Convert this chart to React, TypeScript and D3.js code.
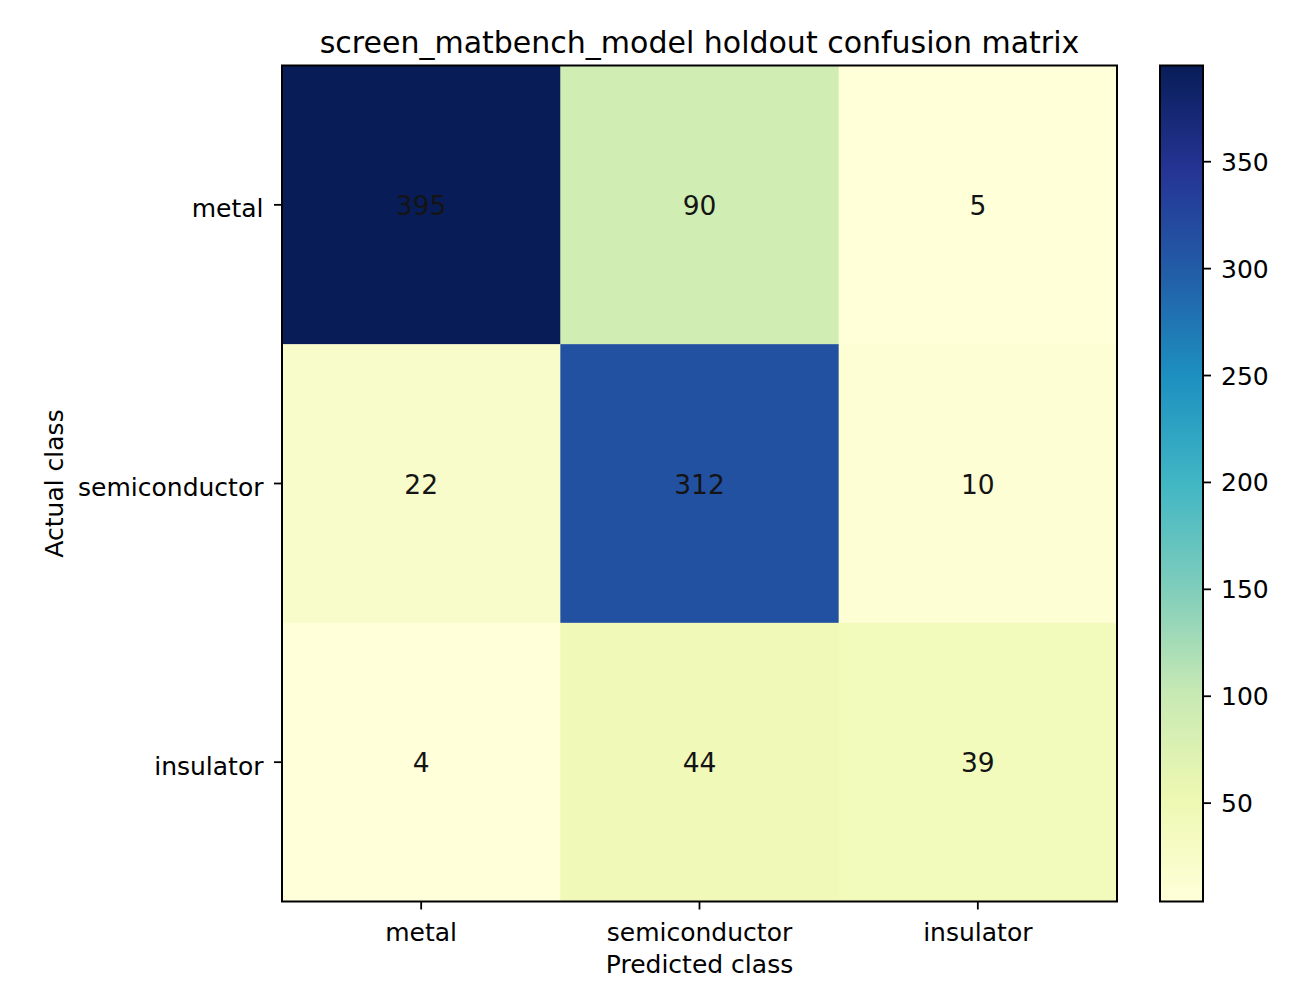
import { useEffect, useRef } from "react";
import * as d3 from "d3";

// Confusion matrix values
const CLASSES = ["metal", "semiconductor", "insulator"];
const ROW_METAL = [395, 90, 5];
const ROW_SEMICONDUCTOR = [22, 312, 10];
const ROW_INSULATOR = [4, 44, 39];
const COLORBAR_TICKS = [50, 100, 150, 200, 250, 300, 350];

// matplotlib YlGnBu control colours (linear segmented)
const YLGNBU = [
  "#ffffd9",
  "#edf8b1",
  "#c7e9b4",
  "#7fcdbb",
  "#41b6c4",
  "#1d91c0",
  "#225ea8",
  "#253494",
  "#081d58",
];

const WIDTH = 1296;
const HEIGHT = 1007;
const PLOT = { left: 282, right: 1117, top: 65.5, bottom: 901.5 };
const CBAR = { left: 1160, right: 1203 };
const FONT = "DejaVu Sans, Liberation Sans, sans-serif";
const TICK_FS = "25px";

export default function App() {
  const svgRef = useRef<SVGSVGElement>(null);

  useEffect(() => {
    if (!svgRef.current) return;
    const svg = d3.select(svgRef.current);
    svg.selectAll("*").remove();

    const rows = [ROW_METAL, ROW_SEMICONDUCTOR, ROW_INSULATOR];
    const cells = rows.flatMap((r, i) =>
      r.map((v, j) => ({ row: CLASSES[i], col: CLASSES[j], value: v }))
    );
    const all = cells.map((c) => c.value);
    const vmin = d3.min(all) ?? 0;
    const vmax = d3.max(all) ?? 1;

    const x = d3.scaleBand().domain(CLASSES).range([PLOT.left, PLOT.right]);
    const y = d3.scaleBand().domain(CLASSES).range([PLOT.top, PLOT.bottom]);

    const color = d3
      .scaleLinear<string>()
      .domain(YLGNBU.map((_, i) => vmin + ((vmax - vmin) * i) / (YLGNBU.length - 1)))
      .range(YLGNBU)
      .interpolate(d3.interpolateRgb)
      .clamp(true);

    svg.attr("width", WIDTH).attr("height", HEIGHT).style("font-family", FONT);
    svg.append("rect").attr("width", WIDTH).attr("height", HEIGHT).attr("fill", "#fff");

    // Cells
    svg
      .append("g")
      .selectAll("rect")
      .data(cells)
      .join("rect")
      .attr("x", (d) => x(d.col)!)
      .attr("y", (d) => y(d.row)!)
      .attr("width", x.bandwidth() + 0.5)
      .attr("height", y.bandwidth() + 0.5)
      .attr("fill", (d) => color(d.value));

    // Annotations
    svg
      .append("g")
      .selectAll("text")
      .data(cells)
      .join("text")
      .attr("x", (d) => x(d.col)! + x.bandwidth() / 2)
      .attr("y", (d) => y(d.row)! + y.bandwidth() / 2 + 10)
      .attr("text-anchor", "middle")
      .attr("font-size", "26.5px")
      .attr("fill", "#141414")
      .text((d) => d.value);

    // Frame
    svg
      .append("rect")
      .attr("x", PLOT.left)
      .attr("y", PLOT.top)
      .attr("width", PLOT.right - PLOT.left)
      .attr("height", PLOT.bottom - PLOT.top)
      .attr("fill", "none")
      .attr("stroke", "#000")
      .attr("stroke-width", 2);

    // X ticks
    const xt = svg
      .append("g")
      .selectAll("g")
      .data(CLASSES)
      .join("g")
      .attr("transform", (d) => `translate(${x(d)! + x.bandwidth() / 2},${PLOT.bottom})`);
    xt.append("line").attr("y2", 8).attr("stroke", "#000").attr("stroke-width", 1.8);
    xt.append("text")
      .attr("y", 39.5)
      .attr("text-anchor", "middle")
      .attr("font-size", TICK_FS)
      .attr("fill", "#000")
      .text((d) => d);

    // Y ticks
    const yt = svg
      .append("g")
      .selectAll("g")
      .data(CLASSES)
      .join("g")
      .attr("transform", (d) => `translate(${PLOT.left},${y(d)! + y.bandwidth() / 2})`);
    yt.append("line").attr("x2", -8).attr("stroke", "#000").attr("stroke-width", 1.8);
    yt.append("text")
      .attr("x", -18.5)
      .attr("y", 12.5)
      .attr("text-anchor", "end")
      .attr("font-size", TICK_FS)
      .attr("fill", "#000")
      .text((d) => d);

    // Axis labels
    svg
      .append("text")
      .attr("x", (PLOT.left + PLOT.right) / 2)
      .attr("y", 973)
      .attr("text-anchor", "middle")
      .attr("font-size", TICK_FS)
      .text("Predicted class");

    svg
      .append("text")
      .attr("transform", `translate(63,${(PLOT.top + PLOT.bottom) / 2}) rotate(-90)`)
      .attr("text-anchor", "middle")
      .attr("font-size", TICK_FS)
      .text("Actual class");

    // Title
    svg
      .append("text")
      .attr("x", (PLOT.left + PLOT.right) / 2)
      .attr("y", 53)
      .attr("text-anchor", "middle")
      .attr("font-size", "30px")
      .text("screen_matbench_model holdout confusion matrix");

    // Colorbar
    const grad = svg
      .append("defs")
      .append("linearGradient")
      .attr("id", "cbar-grad")
      .attr("x1", 0)
      .attr("y1", 1)
      .attr("x2", 0)
      .attr("y2", 0);
    grad
      .selectAll("stop")
      .data(YLGNBU)
      .join("stop")
      .attr("offset", (_, i) => i / (YLGNBU.length - 1))
      .attr("stop-color", (d) => d);

    svg
      .append("rect")
      .attr("x", CBAR.left)
      .attr("y", PLOT.top)
      .attr("width", CBAR.right - CBAR.left)
      .attr("height", PLOT.bottom - PLOT.top)
      .attr("fill", "url(#cbar-grad)")
      .attr("stroke", "#000")
      .attr("stroke-width", 2);

    const cy = d3.scaleLinear().domain([vmin, vmax]).range([PLOT.bottom, PLOT.top]);
    const ct = svg
      .append("g")
      .selectAll("g")
      .data(COLORBAR_TICKS)
      .join("g")
      .attr("transform", (d) => `translate(${CBAR.right},${cy(d)})`);
    ct.append("line").attr("x2", 8).attr("stroke", "#000").attr("stroke-width", 1.8);
    ct.append("text")
      .attr("x", 18)
      .attr("y", 9)
      .attr("font-size", TICK_FS)
      .text((d) => d);
  }, []);

  return (
    <svg
      ref={svgRef}
      style={{ position: "absolute", left: 0, top: 0, display: "block" }}
      role="img"
      aria-label="Confusion matrix heatmap"
    />
  );
}
